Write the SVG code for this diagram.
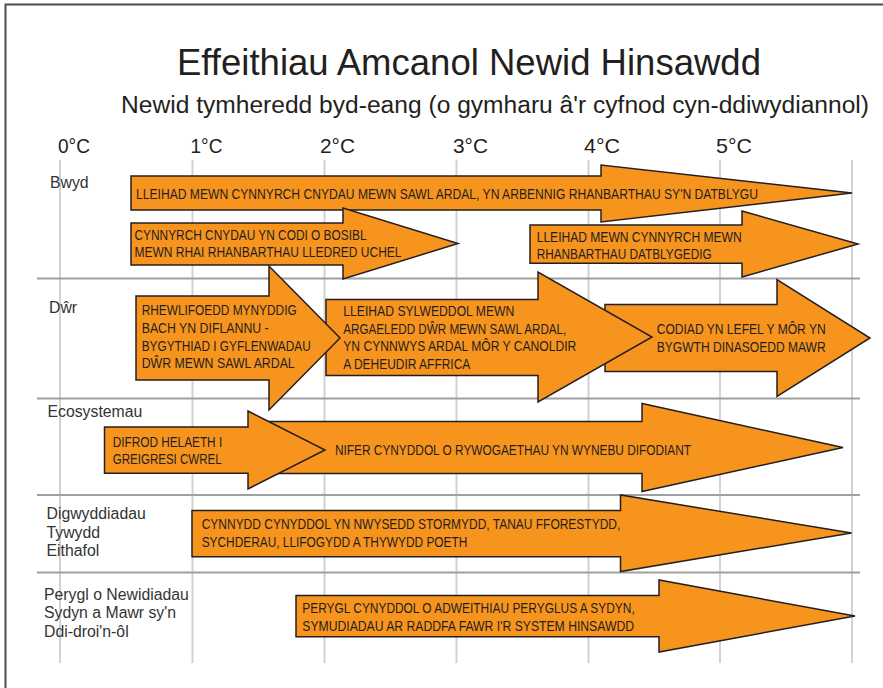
<svg xmlns="http://www.w3.org/2000/svg" width="883" height="688" viewBox="0 0 883 688">
<style>
.t{font-family:"Liberation Sans",Arial,sans-serif;fill:#231F20}
.title{font-size:36px}
.sub{font-size:23px}
.deg{font-size:21px}
.row{font-size:15.8px;fill:#333}
.lab{font-size:15px}
.arr{fill:#F7941D;stroke:#231F20;stroke-width:1.5;stroke-linejoin:miter}
.grid{stroke:#D2D2D2;stroke-width:2}
.sep{stroke:#A0A0A0;stroke-width:2.2}
</style>
<rect x="0" y="0" width="883" height="688" fill="#FFFFFF"/>
<rect x="5.5" y="4.5" width="900" height="700" fill="none" stroke="#4D4D4D" stroke-width="2"/>

<g id="header">
<text class="t title" x="177" y="75" textLength="584" lengthAdjust="spacingAndGlyphs">Effeithiau Amcanol Newid Hinsawdd</text>
<text class="t sub" x="121" y="113" textLength="748" lengthAdjust="spacingAndGlyphs">Newid tymheredd byd-eang (o gymharu â'r cyfnod cyn-ddiwydiannol)</text>
</g>

<g id="axis">
<text class="t deg" x="58" y="153" textLength="32" lengthAdjust="spacingAndGlyphs">0°C</text>
<text class="t deg" x="190.5" y="153" textLength="32" lengthAdjust="spacingAndGlyphs">1°C</text>
<text class="t deg" x="320" y="153" textLength="35" lengthAdjust="spacingAndGlyphs">2°C</text>
<text class="t deg" x="453" y="153" textLength="35" lengthAdjust="spacingAndGlyphs">3°C</text>
<text class="t deg" x="584" y="153" textLength="36" lengthAdjust="spacingAndGlyphs">4°C</text>
<text class="t deg" x="716" y="153" textLength="36" lengthAdjust="spacingAndGlyphs">5°C</text>
</g>

<g id="grid">
<line class="grid" x1="60" y1="160" x2="60" y2="663"/>
<line class="grid" x1="192.5" y1="160" x2="192.5" y2="663"/>
<line class="grid" x1="324.5" y1="160" x2="324.5" y2="663"/>
<line class="grid" x1="456.5" y1="160" x2="456.5" y2="663"/>
<line class="grid" x1="588.5" y1="160" x2="588.5" y2="663"/>
<line class="grid" x1="720" y1="160" x2="720" y2="663"/>
<line class="grid" x1="852" y1="160" x2="852" y2="663"/>
<line class="sep" x1="37" y1="278.5" x2="860" y2="278.5"/>
<line class="sep" x1="37" y1="398.5" x2="860" y2="398.5"/>
<line class="sep" x1="37" y1="495" x2="860" y2="495"/>
<line class="sep" x1="37" y1="572.5" x2="860" y2="572.5"/>
</g>

<g id="row-labels">
<text class="t row" x="50" y="188">Bwyd</text>
<text class="t row" x="49" y="312.5">Dŵr</text>
<text class="t row" x="47.5" y="416.5">Ecosystemau</text>
<text class="t row" x="46.5" y="518.5">Digwyddiadau</text>
<text class="t row" x="46.5" y="537.5">Tywydd</text>
<text class="t row" x="46.5" y="556">Eithafol</text>
<text class="t row" x="44" y="599.5">Perygl o Newidiadau</text>
<text class="t row" x="44" y="618">Sydyn a Mawr sy'n</text>
<text class="t row" x="44" y="636.5">Ddi-droi'n-ôl</text>
</g>

<g id="bwyd-1">
<polygon class="arr" points="131,176 601,176 601,165 852,193 601,222 601,210 131,210"/>
<text class="t lab" x="136" y="199" textLength="622" lengthAdjust="spacingAndGlyphs">LLEIHAD MEWN CYNNYRCH CNYDAU MEWN SAWL ARDAL, YN ARBENNIG RHANBARTHAU SY'N DATBLYGU</text>
</g>
<g id="bwyd-2">
<polygon class="arr" points="131,223 343,223 343,208 458,243.5 343,279 343,265 131,265"/>
<text class="t lab" x="134.5" y="240" textLength="232" lengthAdjust="spacingAndGlyphs">CYNNYRCH CNYDAU YN CODI O BOSIBL</text>
<text class="t lab" x="134.5" y="257.3" textLength="267" lengthAdjust="spacingAndGlyphs">MEWN RHAI RHANBARTHAU LLEDRED UCHEL</text>
</g>
<g id="bwyd-3">
<polygon class="arr" points="530,225 742,225 742,211 858,244 742,277 742,263.3 530,263.3"/>
<text class="t lab" x="536.7" y="241.7" textLength="205" lengthAdjust="spacingAndGlyphs">LLEIHAD MEWN CYNNYRCH MEWN</text>
<text class="t lab" x="536.7" y="259.2" textLength="175" lengthAdjust="spacingAndGlyphs">RHANBARTHAU DATBLYGEDIG</text>
</g>

<g id="dwr-3">
<polygon class="arr" points="605,304.5 777,304.5 777,279.5 870,338 777,396.5 777,371.5 605,371.5"/>
<text class="t lab" x="656.7" y="334" textLength="169" lengthAdjust="spacingAndGlyphs">CODIAD YN LEFEL Y MÔR YN</text>
<text class="t lab" x="656.7" y="351.7" textLength="169" lengthAdjust="spacingAndGlyphs">BYGWTH DINASOEDD MAWR</text>
</g>
<g id="dwr-2">
<polygon class="arr" points="326,299.5 538,299.5 538,272 652,337 538,402 538,375.5 326,375.5"/>
<text class="t lab" x="343.3" y="316" textLength="171" lengthAdjust="spacingAndGlyphs">LLEIHAD SYLWEDDOL MEWN</text>
<text class="t lab" x="343.3" y="333.5" textLength="223" lengthAdjust="spacingAndGlyphs">ARGAELEDD DŴR MEWN SAWL ARDAL,</text>
<text class="t lab" x="343.3" y="351.3" textLength="233" lengthAdjust="spacingAndGlyphs">YN CYNNWYS ARDAL MÔR Y CANOLDIR</text>
<text class="t lab" x="343.3" y="368.5" textLength="127" lengthAdjust="spacingAndGlyphs">A DEHEUDIR AFFRICA</text>
</g>
<g id="dwr-1">
<polygon class="arr" points="136,296 269,296 269,266 340,338 269,410 269,380 136,380"/>
<text class="t lab" x="141.7" y="315" textLength="155" lengthAdjust="spacingAndGlyphs">RHEWLIFOEDD MYNYDDIG</text>
<text class="t lab" x="141.7" y="332.7" textLength="127" lengthAdjust="spacingAndGlyphs">BACH YN DIFLANNU -</text>
<text class="t lab" x="141.7" y="350.7" textLength="169" lengthAdjust="spacingAndGlyphs">BYGYTHIAD I GYFLENWADAU</text>
<text class="t lab" x="141.7" y="368.3" textLength="153" lengthAdjust="spacingAndGlyphs">DŴR MEWN SAWL ARDAL</text>
</g>

<g id="eco-2">
<polygon class="arr" points="250,421.5 642,421.5 642,403.5 843,447.5 642,491.5 642,473.5 250,473.5"/>
<text class="t lab" x="335" y="454.5" textLength="356" lengthAdjust="spacingAndGlyphs">NIFER CYNYDDOL O RYWOGAETHAU YN WYNEBU DIFODIANT</text>
</g>
<g id="eco-1">
<polygon class="arr" points="104.5,427 248,427 248,411 325,450 248,489 248,473.3 104.5,473.3"/>
<text class="t lab" x="112.7" y="446.7" textLength="109.5" lengthAdjust="spacingAndGlyphs">DIFROD HELAETH I</text>
<text class="t lab" x="112.7" y="464.3" textLength="109" lengthAdjust="spacingAndGlyphs">GREIGRESI CWREL</text>
</g>

<g id="tywydd-1">
<polygon class="arr" points="192,510.5 620.5,510.5 620.5,495 851.5,533 620.5,571.5 620.5,556.7 192,556.7"/>
<text class="t lab" x="201.7" y="529.3" textLength="418.6" lengthAdjust="spacingAndGlyphs">CYNNYDD CYNYDDOL YN NWYSEDD STORMYDD, TANAU FFORESTYDD,</text>
<text class="t lab" x="201.7" y="547.3" textLength="265.6" lengthAdjust="spacingAndGlyphs">SYCHDERAU, LLIFOGYDD A THYWYDD POETH</text>
</g>

<g id="perygl-1">
<polygon class="arr" points="296,595.5 659,595.5 659,580 855,616 659,652 659,636.7 296,636.7"/>
<text class="t lab" x="302.3" y="613.3" textLength="332.4" lengthAdjust="spacingAndGlyphs">PERYGL CYNYDDOL O ADWEITHIAU PERYGLUS A SYDYN,</text>
<text class="t lab" x="302.3" y="631" textLength="331.7" lengthAdjust="spacingAndGlyphs">SYMUDIADAU AR RADDFA FAWR I'R SYSTEM HINSAWDD</text>
</g>
</svg>
